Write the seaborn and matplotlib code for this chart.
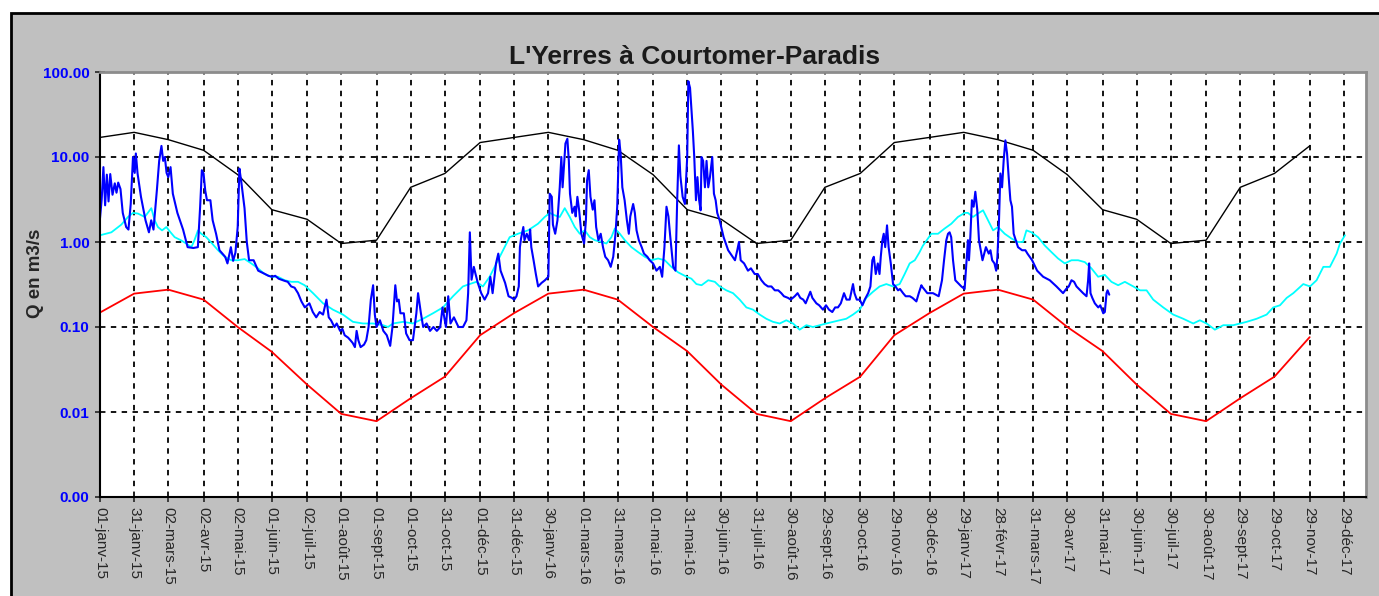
import pandas as pd
import matplotlib
matplotlib.use("Agg")
import matplotlib.pyplot as plt
import seaborn as sns
from matplotlib.patches import Rectangle
from matplotlib.ticker import NullLocator

start = pd.Timestamp("2015-01-01")

tick_dates = ["2015-01-01", "2015-01-31", "2015-03-02", "2015-04-02", "2015-05-02", "2015-06-01",
              "2015-07-02", "2015-08-01", "2015-09-01", "2015-10-01", "2015-10-31", "2015-12-01",
              "2015-12-31", "2016-01-30", "2016-03-01", "2016-03-31", "2016-05-01", "2016-05-31",
              "2016-06-30", "2016-07-31", "2016-08-30", "2016-09-29", "2016-10-30", "2016-11-29",
              "2016-12-30", "2017-01-29", "2017-02-28", "2017-03-31", "2017-04-30", "2017-05-31",
              "2017-06-30", "2017-07-30", "2017-08-30", "2017-09-29", "2017-10-29", "2017-11-29",
              "2017-12-29"]
tick_labels = ["01-janv-15", "31-janv-15", "02-mars-15", "02-avr-15", "02-mai-15", "01-juin-15",
               "02-juil-15", "01-août-15", "01-sept-15", "01-oct-15", "31-oct-15", "01-déc-15",
               "31-déc-15", "30-janv-16", "01-mars-16", "31-mars-16", "01-mai-16", "31-mai-16",
               "30-juin-16", "31-juil-16", "30-août-16", "29-sept-16", "30-oct-16", "29-nov-16",
               "30-déc-16", "29-janv-17", "28-févr-17", "31-mars-17", "30-avr-17", "31-mai-17",
               "30-juin-17", "30-juil-17", "30-août-17", "29-sept-17", "29-oct-17", "29-nov-17",
               "29-déc-17"]

y_ticks = [0.001, 0.01, 0.1, 1, 10, 100]
y_labels = ["0.00", "0.01", "0.10", "1.00", "10.00", "100.00"]

# enveloppes (valeurs aux dates des graduations, jusqu'au 29-nov-17)
black_q = [17, 19.5, 16, 12, 6.2, 2.4, 1.85, 0.96, 1.05, 4.4, 6.4, 14.8,
           17, 19.5, 16, 12, 6.2, 2.4, 1.85, 0.96, 1.05, 4.4, 6.4, 14.8,
           17, 19.5, 16, 12, 6.2, 2.4, 1.85, 0.96, 1.05, 4.4, 6.4, 13.5]
red_q = [0.148, 0.247, 0.275, 0.21, 0.10, 0.051, 0.021, 0.0095, 0.0078, 0.0145, 0.026, 0.08,
         0.146, 0.247, 0.275, 0.21, 0.10, 0.052, 0.021, 0.0095, 0.0078, 0.0145, 0.026, 0.08,
         0.146, 0.247, 0.275, 0.21, 0.10, 0.052, 0.021, 0.0095, 0.0078, 0.0145, 0.026, 0.076]

# debit median (jours depuis le 01/01/2015)
cyan_days = [0, 10, 18.7, 24.6, 29, 33.4, 39.3, 45.1, 48, 50.9, 54.5, 58.3, 62, 65.6, 71, 75.8,
             80.3, 83, 86.1, 89, 93.4, 98.5, 103.7, 109.5, 115.4, 121, 127.1, 132.9, 138.8,
             144.7, 150.6, 156.4, 162.3, 168.2, 174, 179.8,
             187.2, 196, 204.7, 213.5, 222.3, 231.1, 239.9, 248.7, 253.1, 257.5, 266.3, 275,
             283.8, 292.6, 301.4, 310.2, 318.9, 324.8, 330.7, 336.5, 342.4, 348.3, 354.1, 360,
             367.3, 376.1, 384.9, 390.8, 395.2, 399.6, 404, 408.4, 412.8, 417.2, 421.6, 426,
             430.4, 434.8, 440.6, 445, 449.4, 452.4, 456.8, 461.2, 467, 472.9, 478.7, 484.6,
             490.4, 496.3, 502.1, 508, 513.9, 519.7, 524.1, 528.6, 534.5, 540.3,
             544.5, 550.4, 556.3, 562.1, 568, 573.8, 579.7, 585.5, 591.4, 597.3, 603.1, 609,
             614.8, 620.7, 626.5, 632.4, 638.3, 644.1, 650, 655.8, 661.7, 667.6, 673.4, 679.3,
             685.1, 691, 696.9, 702.7, 707.1, 711.5, 716, 720, 723,
             730.5, 736.4, 742.2, 748.1, 753.9, 759.8, 762.7, 767.1, 771.5, 776, 780.4, 784.8,
             789.2, 795, 800.9, 806.7, 811.1, 814.1, 818.5, 824.3, 830.2, 836.1, 841.9, 847.8,
             853.7, 859.5, 865.4, 871.2, 877.1, 883, 888.8, 894.7, 900.6,
             908, 914, 919.7, 925.5, 934.3, 943.1, 951.9, 960.7, 966.5, 972.4, 979.7, 987.1,
             995.9, 1001.8, 1007.6, 1016.4, 1025.2, 1031, 1036.9, 1042.8, 1048.6, 1057.4,
             1063.3, 1069.1, 1075, 1080.8, 1086.7, 1089.6, 1094]
cyan_q = [1.2, 1.3, 1.6, 1.97, 2.2, 2.16, 1.97, 2.5, 1.8, 1.5, 1.37, 1.5, 1.3, 1.14, 1.05, 0.96,
          0.87, 1.05, 1.37, 1.25, 1.14, 0.96, 0.80, 0.67, 0.61, 0.61, 0.63, 0.56, 0.49,
          0.42, 0.39, 0.39, 0.355, 0.34, 0.34, 0.31,
          0.25, 0.19, 0.16, 0.14, 0.115, 0.11, 0.11, 0.105, 0.10, 0.11, 0.115, 0.11,
          0.125, 0.145, 0.17, 0.23, 0.30, 0.32, 0.34, 0.30, 0.39, 0.56, 0.80, 1.14,
          1.25, 1.37, 1.64, 1.97, 2.2, 2.06, 1.97, 2.5, 1.97, 1.5, 1.25, 1.37,
          1.14, 1.05, 1.0, 0.96, 1.14, 1.44, 1.25, 1.05, 0.87, 0.76, 0.67, 0.61,
          0.64, 0.61, 0.51, 0.44, 0.40, 0.37, 0.32, 0.31, 0.355, 0.34,
          0.30, 0.27, 0.25, 0.21, 0.17, 0.16, 0.14, 0.125, 0.115, 0.11, 0.12, 0.11,
          0.093, 0.105, 0.10, 0.105, 0.11, 0.115, 0.12, 0.125, 0.14, 0.16, 0.22, 0.26,
          0.30, 0.32, 0.30, 0.32, 0.42, 0.56, 0.61, 0.75, 0.9,
          1.25, 1.25, 1.44, 1.64, 1.97, 2.2, 2.2, 1.97, 2.16, 2.36, 1.8, 1.37,
          1.5, 1.25, 1.1, 1.0, 1.0, 1.37, 1.3, 1.14, 0.91, 0.76, 0.64, 0.56,
          0.61, 0.61, 0.58, 0.49, 0.39, 0.41, 0.34, 0.31, 0.34,
          0.30, 0.27, 0.27, 0.21, 0.17, 0.14, 0.125, 0.11, 0.12, 0.11, 0.093, 0.105,
          0.105, 0.11, 0.115, 0.125, 0.14, 0.17, 0.18, 0.22, 0.25, 0.32,
          0.30, 0.355, 0.51, 0.51, 0.73, 0.96, 1.2]

# debits observes (jours depuis le 01/01/2015)
blue_days = [0, 1.5, 3, 4.5, 6, 7.5, 9, 11, 13, 14.5, 16, 18, 20, 23, 25, 27, 29, 30.5, 31.5, 33,
             36, 40, 43, 45, 47, 50, 52, 54, 55.5, 57, 58.5, 60, 62, 64, 68, 73, 77, 82, 86, 88,
             89.5, 91, 92.5, 94, 97, 99, 102, 105, 110, 112, 115, 117, 119, 121, 122.5, 124, 127,
             129, 131, 135, 139, 142, 145, 148, 151, 154, 157, 162, 165, 168, 171, 174, 177, 180,
             184, 187, 190, 193, 196, 199, 201, 203, 206, 208, 211, 213, 215, 218, 220, 222, 224,
             225.5, 227, 229, 232, 234, 236, 238, 240, 241.5, 243, 246, 249, 252, 255, 257,
             259.5, 261, 262.5, 264, 267, 269, 272, 275, 278, 279.5, 282, 284, 287, 290, 293,
             296, 299, 301, 304, 306, 308, 311, 315, 319, 322, 323.5, 325, 326.5, 328.5, 330,
             332, 335, 338, 341, 343, 345, 348, 350, 352, 356, 359, 362,
             364, 366, 368, 369, 370, 372, 373, 375, 377, 378, 379, 381, 383, 385, 388, 391, 394,
             395.2, 397, 398, 400, 402, 404, 405.4, 406.5, 408, 409, 410.7, 412, 413, 415, 417,
             418, 419.5, 421, 423, 425.4, 427, 428, 429.5, 431, 433, 434.5, 436, 438, 440, 442,
             444, 446.5, 448.8, 451, 453, 454.5, 456.2, 457.5, 459, 461, 463, 464.7, 466, 468.5,
             470, 471.5, 473.5, 476, 478, 481, 483, 486, 489, 492, 494, 496, 497.8, 499.5, 501,
             503.7, 505.7, 507.2, 508.7, 510, 512, 514, 516, 517, 518.5, 519.5, 521, 522.2,
             523.7, 525, 526.5, 527.8, 528.6, 530, 531.6, 533, 534.5, 536, 538, 539.5, 541, 542.4,
             544.5, 548, 552, 556, 558, 560, 561.5, 563, 566, 569.4, 572, 575.3, 578, 581.2, 584,
             587, 590, 593, 596, 598.7, 601, 604.6, 607, 610.5, 613, 615.4, 618, 620.1, 622,
             624.2, 626, 629.5, 632, 635.3, 638, 640.6, 643.5, 646, 648.5, 651, 653.8, 656,
             658.8, 661.7, 663, 665, 667.6, 670, 672, 675, 677, 678.7, 680, 681.7, 683.5, 685,
             686.1, 687.5, 688.7, 690, 691.6, 693, 694.9, 696.9, 699, 701.3, 703, 705.7, 708,
             711.6, 714, 717.4, 719.5, 721.8,
             722.3, 727, 732, 737, 739.9, 741.7, 743.7, 745.2, 746.6, 748, 749.6, 751.6, 756.9,
             759.8, 761.3, 762.7, 763.6, 764.8, 766.2, 767.7, 769.2, 770.9, 772.4, 774, 775.5,
             777, 778.5, 781, 782.5, 784, 786, 787.5, 788.6, 790, 791.2, 792.7, 794.1, 795.6,
             797.1, 798.5, 800, 801.4, 802.9, 804.7, 806.7, 810.3, 813.2, 815, 817, 819.1,
             823.5, 828.8, 834.6, 840.5, 846.3, 849, 851.3, 853.7, 856, 858.1, 863.9, 866.9,
             868.3, 869.2, 870.4, 872, 874.2, 877.2, 879, 881.6, 883, 884.5, 885.4, 886.9]
blue_q = [1.9, 3.2, 7.6, 2.7, 6.2, 3.0, 6.3, 3.6, 4.9, 3.8, 5.0, 4.2, 2.2, 1.5, 1.4, 2.8, 10.0,
          6.5, 11.0, 6.4, 3.4, 1.8, 1.3, 1.8, 1.4, 4.1, 9.0, 13.5, 9.0, 10.0, 6.5, 5.8, 7.6, 3.7,
          2.2, 1.4, 0.87, 0.85, 0.87, 2.6, 7.0, 6.4, 4.0, 3.1, 3.1, 1.8, 1.25, 0.80, 0.67, 0.56,
          0.87, 0.60, 0.75, 1.5, 7.3, 5.3, 2.5, 1.0, 0.61, 0.61, 0.46, 0.44, 0.42, 0.40, 0.39,
          0.40, 0.37, 0.35, 0.34, 0.30, 0.29, 0.25, 0.20, 0.17,
          0.19, 0.15, 0.13, 0.15, 0.14, 0.21, 0.13, 0.12, 0.10, 0.11, 0.09, 0.095, 0.08, 0.075,
          0.07, 0.065, 0.058, 0.09, 0.07, 0.058, 0.062, 0.07, 0.10, 0.21, 0.31, 0.14, 0.10,
          0.12, 0.09, 0.08, 0.06, 0.10, 0.31, 0.20, 0.21, 0.145, 0.145, 0.084, 0.07, 0.07,
          0.145, 0.25, 0.145, 0.10, 0.11, 0.09, 0.10, 0.09, 0.10, 0.17, 0.10, 0.23, 0.11, 0.13,
          0.10, 0.10, 0.12, 0.25, 1.3, 0.36, 0.51, 0.42, 0.33, 0.25, 0.21, 0.25, 0.39, 0.25,
          0.56, 0.73, 0.46, 0.33, 0.23, 0.22,
          0.21, 0.23, 0.30, 0.87, 1.1, 1.5, 1.05, 1.25, 1.05, 1.4, 0.87, 0.61, 0.42, 0.30, 0.33,
          0.355, 0.39, 3.7, 3.4, 1.6, 1.25, 1.8, 4.4, 10, 4.4, 9, 14.4, 16.4, 9, 3.7, 2.2, 2.6,
          2.0, 3.4, 2.4, 1.25, 0.96, 1.8, 5.3, 7.0, 3.4, 2.4, 3.1, 1.5, 1.05, 1.25, 0.87, 0.67,
          0.61, 0.51, 0.67, 1.25, 2.6, 16, 11, 4.4, 3.1, 1.8, 1.25, 2.0, 2.8, 2.2, 1.37, 1.05,
          0.87, 0.73, 0.67, 0.61, 0.56, 0.46, 0.51, 0.39, 0.87, 2.6, 2.0, 1.2, 0.51, 0.46, 3.1,
          13.7, 6.0, 3.4, 2.8, 10, 78, 65, 40, 20, 10, 3.1, 5.8, 3.1, 2.36, 10, 9, 4.4, 9, 4.4,
          5.8, 10, 3.7, 3.1, 2.2,
          1.8, 1.14, 0.80, 0.67, 0.61, 0.80, 1.0, 0.61, 0.56, 0.46, 0.49, 0.42, 0.42, 0.355,
          0.32, 0.30, 0.30, 0.27, 0.27, 0.25, 0.23, 0.22, 0.21, 0.23, 0.25, 0.22, 0.21, 0.19,
          0.22, 0.26, 0.22, 0.19, 0.18, 0.16, 0.18, 0.16, 0.15, 0.17, 0.17, 0.19, 0.25, 0.21,
          0.21, 0.32, 0.25, 0.21, 0.21, 0.18, 0.21, 0.25, 0.30, 0.61, 0.67, 0.42, 0.56, 0.42,
          0.67, 1.05, 1.25, 0.87, 1.57, 0.87, 0.56, 0.32, 0.30, 0.27, 0.28, 0.25, 0.23, 0.23,
          0.22, 0.20, 0.25, 0.31,
          0.30, 0.25, 0.25, 0.23, 0.355, 0.61, 1.05, 1.25, 1.3, 1.14, 0.61, 0.355, 0.30, 0.28,
          0.56, 1.05, 0.61, 1.14, 3.1, 2.6, 3.9, 2.4, 1.05, 0.80, 0.61, 0.73, 0.87, 0.73, 0.80,
          0.61, 0.56, 0.46, 0.67, 1.8, 6.4, 4.4, 9.1, 15.7, 10.9, 5.8, 3.1, 2.6, 1.25, 1.05,
          0.87, 0.80, 0.80, 0.73, 0.67, 0.61, 0.46, 0.39, 0.355, 0.30, 0.25, 0.28, 0.30, 0.355,
          0.34, 0.30, 0.25, 0.23, 0.355, 0.56, 0.25, 0.22, 0.19, 0.17, 0.18, 0.145, 0.15, 0.25,
          0.27, 0.24]

sns.set_style("white")
plt.rcParams["font.family"] = ["Liberation Sans", "DejaVu Sans"]

fig = plt.figure(figsize=(13.79, 5.96), dpi=100)
fig.patches.append(Rectangle((0.008, -0.05), 1.1, 1.028, transform=fig.transFigure,
                             facecolor="#c0c0c0", edgecolor="black", lw=2, zorder=-1))
ax = fig.add_axes([100 / 1379, 1 - 497 / 596, 1266 / 1379, 425 / 596])
ax.set_facecolor("white")

env_dates = pd.to_datetime(tick_dates[:len(black_q)])
df_black = pd.DataFrame({"date": env_dates, "q": black_q})
df_red = pd.DataFrame({"date": env_dates, "q": red_q})
df_cyan = pd.DataFrame({"date": start + pd.to_timedelta(cyan_days, unit="D"), "q": cyan_q})
df_blue = pd.DataFrame({"date": start + pd.to_timedelta(blue_days, unit="D"), "q": blue_q})

sns.lineplot(data=df_black, x="date", y="q", color="black", lw=1.0, estimator=None, sort=False, ax=ax)
sns.lineplot(data=df_red, x="date", y="q", color="#ff0000", lw=1.3, estimator=None, sort=False, ax=ax)
sns.lineplot(data=df_cyan, x="date", y="q", color="#00ffff", lw=1.3, estimator=None, sort=False, ax=ax)
sns.lineplot(data=df_blue, x="date", y="q", color="#0000ff", lw=1.5, estimator=None, sort=False, ax=ax)

ax.set_yscale("log")
ax.set_ylim(0.001, 100)
ax.set_yticks(y_ticks)
ax.set_yticklabels(y_labels, fontweight="bold")
ax.yaxis.set_minor_locator(NullLocator())
ax.set_xlim(start, pd.Timestamp("2018-01-17 12:00"))
ax.set_xticks(pd.to_datetime(tick_dates))
ax.set_xticklabels(tick_labels, rotation=-90, ha="center", va="top")
ax.xaxis.set_minor_locator(NullLocator())
ax.set_xlabel("")
ax.set_ylabel("")

ax.grid(True, color="black", linestyle=(0, (3, 3)), lw=1.3)
ax.set_axisbelow(True)
ax.tick_params(axis="y", labelcolor="#0000ff", labelsize=11, direction="inout", length=7,
               width=1.2, pad=4, left=True)
ax.tick_params(axis="x", labelsize=11, direction="inout", length=7, width=1.2, pad=4, bottom=True)
for side in ["left", "bottom"]:
    ax.spines[side].set_color("black")
    ax.spines[side].set_linewidth(1.5)
for side in ["top", "right"]:
    ax.spines[side].set_color("#8c8c8c")
    ax.spines[side].set_linewidth(2)

fig.text(0.504, 0.904, "L'Yerres à Courtomer-Paradis", ha="center", va="center",
         fontsize=19, fontweight="bold", color="#1a1a1a")
fig.text(0.0254, 0.542, "Q en m3/s", rotation=90, ha="center", va="center",
         fontsize=13.5, fontweight="bold")

fig.savefig("out.png", dpi=100)
